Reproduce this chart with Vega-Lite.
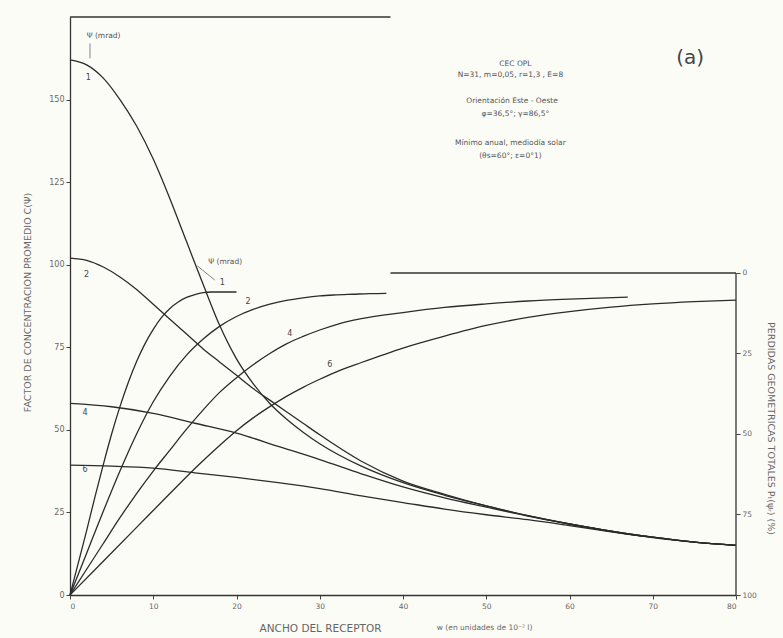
{
  "$schema": "https://vega.github.io/schema/vega-lite/v6.json",
  "width": 666,
  "height": 578,
  "autosize": {"type": "none"},
  "padding": {"left": 70, "top": 17, "right": 47, "bottom": 43},
  "background": "#fcfcf7",
  "config": {
    "view": {"stroke": null},
    "font": "DejaVu Sans",
    "axis": {"grid": false, "domainColor": "#333", "domainWidth": 1.3, "tickColor": "#444", "labelColor": "#666", "titleColor": "#666", "labelFont": "DejaVu Sans", "titleFont": "DejaVu Sans", "labelFontSize": 8, "titleFontWeight": "normal"}
  },
  "datasets": {
    "fall": [
      {"curve": "1", "x": 0, "v": 162}, {"curve": "1", "x": 2, "v": 160.5}, {"curve": "1", "x": 4, "v": 156.5}, {"curve": "1", "x": 6, "v": 150}, {"curve": "1", "x": 8, "v": 142}, {"curve": "1", "x": 10, "v": 132}, {"curve": "1", "x": 12, "v": 120}, {"curve": "1", "x": 14, "v": 107}, {"curve": "1", "x": 16, "v": 94}, {"curve": "1", "x": 18, "v": 81.5}, {"curve": "1", "x": 20, "v": 71.5}, {"curve": "1", "x": 22, "v": 64}, {"curve": "1", "x": 24, "v": 58}, {"curve": "1", "x": 26, "v": 53.3}, {"curve": "1", "x": 28, "v": 49.3}, {"curve": "1", "x": 30, "v": 45.8}, {"curve": "1", "x": 35, "v": 39}, {"curve": "1", "x": 40, "v": 34}, {"curve": "1", "x": 45, "v": 30.2}, {"curve": "1", "x": 50, "v": 27}, {"curve": "1", "x": 55, "v": 24}, {"curve": "1", "x": 60, "v": 21.5}, {"curve": "1", "x": 65, "v": 19.3}, {"curve": "1", "x": 70, "v": 17.5}, {"curve": "1", "x": 75, "v": 16}, {"curve": "1", "x": 80, "v": 15},
      {"curve": "2", "x": 0, "v": 102}, {"curve": "2", "x": 2, "v": 101.3}, {"curve": "2", "x": 4, "v": 99.3}, {"curve": "2", "x": 6, "v": 96.3}, {"curve": "2", "x": 8, "v": 92.5}, {"curve": "2", "x": 10, "v": 88}, {"curve": "2", "x": 12, "v": 83.5}, {"curve": "2", "x": 14, "v": 79}, {"curve": "2", "x": 16, "v": 74.5}, {"curve": "2", "x": 18, "v": 70.5}, {"curve": "2", "x": 20, "v": 66.5}, {"curve": "2", "x": 22, "v": 62.5}, {"curve": "2", "x": 24, "v": 59}, {"curve": "2", "x": 26, "v": 55.5}, {"curve": "2", "x": 28, "v": 52}, {"curve": "2", "x": 30, "v": 48.5}, {"curve": "2", "x": 35, "v": 40.5}, {"curve": "2", "x": 40, "v": 34.5}, {"curve": "2", "x": 45, "v": 30.5}, {"curve": "2", "x": 50, "v": 27}, {"curve": "2", "x": 55, "v": 24}, {"curve": "2", "x": 60, "v": 21.5}, {"curve": "2", "x": 65, "v": 19.3}, {"curve": "2", "x": 70, "v": 17.5}, {"curve": "2", "x": 75, "v": 16}, {"curve": "2", "x": 80, "v": 15},
      {"curve": "4", "x": 0, "v": 58}, {"curve": "4", "x": 5, "v": 57}, {"curve": "4", "x": 10, "v": 55}, {"curve": "4", "x": 15, "v": 52}, {"curve": "4", "x": 20, "v": 49}, {"curve": "4", "x": 25, "v": 45}, {"curve": "4", "x": 30, "v": 41}, {"curve": "4", "x": 35, "v": 36.7}, {"curve": "4", "x": 40, "v": 32.7}, {"curve": "4", "x": 45, "v": 29.4}, {"curve": "4", "x": 50, "v": 26.6}, {"curve": "4", "x": 55, "v": 23.9}, {"curve": "4", "x": 60, "v": 21.5}, {"curve": "4", "x": 65, "v": 19.3}, {"curve": "4", "x": 70, "v": 17.5}, {"curve": "4", "x": 75, "v": 16}, {"curve": "4", "x": 80, "v": 15},
      {"curve": "6", "x": 0, "v": 39.3}, {"curve": "6", "x": 5, "v": 39}, {"curve": "6", "x": 10, "v": 38.4}, {"curve": "6", "x": 15, "v": 37}, {"curve": "6", "x": 20, "v": 35.6}, {"curve": "6", "x": 25, "v": 34}, {"curve": "6", "x": 30, "v": 32.2}, {"curve": "6", "x": 35, "v": 30}, {"curve": "6", "x": 40, "v": 28}, {"curve": "6", "x": 45, "v": 26}, {"curve": "6", "x": 50, "v": 24.3}, {"curve": "6", "x": 55, "v": 22.8}, {"curve": "6", "x": 60, "v": 21}, {"curve": "6", "x": 65, "v": 19.1}, {"curve": "6", "x": 70, "v": 17.4}, {"curve": "6", "x": 75, "v": 16}, {"curve": "6", "x": 80, "v": 15}
    ],
    "rise": [
      {"curve": "1", "x": 0, "loss": 100}, {"curve": "1", "x": 1, "loss": 90}, {"curve": "1", "x": 2, "loss": 80}, {"curve": "1", "x": 3, "loss": 69.5}, {"curve": "1", "x": 4, "loss": 59.5}, {"curve": "1", "x": 5, "loss": 50}, {"curve": "1", "x": 6, "loss": 41.5}, {"curve": "1", "x": 7, "loss": 34}, {"curve": "1", "x": 8, "loss": 27.5}, {"curve": "1", "x": 9, "loss": 22}, {"curve": "1", "x": 10, "loss": 17.5}, {"curve": "1", "x": 11, "loss": 13.8}, {"curve": "1", "x": 12, "loss": 11}, {"curve": "1", "x": 13, "loss": 9}, {"curve": "1", "x": 14, "loss": 7.6}, {"curve": "1", "x": 15, "loss": 6.7}, {"curve": "1", "x": 16, "loss": 6.1}, {"curve": "1", "x": 17, "loss": 5.9}, {"curve": "1", "x": 20, "loss": 5.9},
      {"curve": "2", "x": 0, "loss": 100}, {"curve": "2", "x": 2, "loss": 87}, {"curve": "2", "x": 4, "loss": 74}, {"curve": "2", "x": 6, "loss": 61.5}, {"curve": "2", "x": 8, "loss": 50}, {"curve": "2", "x": 10, "loss": 40}, {"curve": "2", "x": 12, "loss": 32}, {"curve": "2", "x": 14, "loss": 25.5}, {"curve": "2", "x": 16, "loss": 20.5}, {"curve": "2", "x": 18, "loss": 16.5}, {"curve": "2", "x": 20, "loss": 13.5}, {"curve": "2", "x": 22, "loss": 11.3}, {"curve": "2", "x": 24, "loss": 9.7}, {"curve": "2", "x": 26, "loss": 8.5}, {"curve": "2", "x": 28, "loss": 7.7}, {"curve": "2", "x": 30, "loss": 7.1}, {"curve": "2", "x": 32, "loss": 6.8}, {"curve": "2", "x": 34, "loss": 6.6}, {"curve": "2", "x": 36, "loss": 6.4}, {"curve": "2", "x": 38, "loss": 6.3},
      {"curve": "4", "x": 0, "loss": 100}, {"curve": "4", "x": 2, "loss": 92}, {"curve": "4", "x": 4, "loss": 84}, {"curve": "4", "x": 6, "loss": 76}, {"curve": "4", "x": 8, "loss": 68.5}, {"curve": "4", "x": 10, "loss": 61.5}, {"curve": "4", "x": 12, "loss": 55}, {"curve": "4", "x": 14, "loss": 48.5}, {"curve": "4", "x": 16, "loss": 42.5}, {"curve": "4", "x": 18, "loss": 37}, {"curve": "4", "x": 20, "loss": 32.5}, {"curve": "4", "x": 22, "loss": 28.5}, {"curve": "4", "x": 24, "loss": 25}, {"curve": "4", "x": 26, "loss": 22}, {"curve": "4", "x": 28, "loss": 19.7}, {"curve": "4", "x": 30, "loss": 17.7}, {"curve": "4", "x": 32, "loss": 16}, {"curve": "4", "x": 35, "loss": 14.2}, {"curve": "4", "x": 40, "loss": 12.3}, {"curve": "4", "x": 45, "loss": 10.7}, {"curve": "4", "x": 50, "loss": 9.6}, {"curve": "4", "x": 55, "loss": 8.7}, {"curve": "4", "x": 60, "loss": 8.1}, {"curve": "4", "x": 67, "loss": 7.5},
      {"curve": "6", "x": 0, "loss": 100}, {"curve": "6", "x": 4, "loss": 89.5}, {"curve": "6", "x": 8, "loss": 79}, {"curve": "6", "x": 12, "loss": 68.5}, {"curve": "6", "x": 15.5, "loss": 59.5}, {"curve": "6", "x": 18, "loss": 53.5}, {"curve": "6", "x": 20, "loss": 49}, {"curve": "6", "x": 22, "loss": 45}, {"curve": "6", "x": 24, "loss": 41.5}, {"curve": "6", "x": 26, "loss": 38.3}, {"curve": "6", "x": 28, "loss": 35.5}, {"curve": "6", "x": 30, "loss": 33}, {"curve": "6", "x": 32, "loss": 30.7}, {"curve": "6", "x": 35, "loss": 27.8}, {"curve": "6", "x": 40, "loss": 23.3}, {"curve": "6", "x": 45, "loss": 19.6}, {"curve": "6", "x": 50, "loss": 16.3}, {"curve": "6", "x": 55, "loss": 13.8}, {"curve": "6", "x": 60, "loss": 12}, {"curve": "6", "x": 65, "loss": 10.6}, {"curve": "6", "x": 70, "loss": 9.6}, {"curve": "6", "x": 75, "loss": 8.9}, {"curve": "6", "x": 80, "loss": 8.4}
    ],
    "notes": [
      {"x": 53.5, "v": 160.7, "text": "CEC OPL"},
      {"x": 52.9, "v": 157.5, "text": "N=31,  m=0,05,  r=1,3 ,  E=8"},
      {"x": 53.1, "v": 149.5, "text": "Orientación Este - Oeste"},
      {"x": 53.5, "v": 145.6, "text": "φ=36,5°;   γ=86,5°"},
      {"x": 52.9, "v": 136.9, "text": "Mínimo anual, mediodía solar"},
      {"x": 52.9, "v": 132.9, "text": "(θs=60°;  ε=0°1)"}
    ],
    "panel": [{"x": 74.5, "v": 162.5, "text": "(a)"}],
    "fallLabels": [
      {"x": 2.2, "v": 156.5, "text": "1"},
      {"x": 2.0, "v": 97, "text": "2"},
      {"x": 1.8, "v": 55, "text": "4"},
      {"x": 1.8, "v": 37.8, "text": "6"}
    ],
    "psiTop": [{"x": 2.0, "v": 169.2, "text": "Ψ (mrad)"}],
    "unitNote": [{"x": 49.8, "v": -10, "text": "w (en unidades de 10⁻² l)"}],
    "topFrame": [{"x": 0, "x2": 38.5, "v": 175}],
    "arrowTop": [{"x": 2.4, "v": 167, "v2": 162.5}],
    "riseLabels": [
      {"x": 18.3, "loss": 3, "text": "1"},
      {"x": 21.4, "loss": 9, "text": "2"},
      {"x": 26.4, "loss": 19, "text": "4"},
      {"x": 31.2, "loss": 28.5, "text": "6"}
    ],
    "psiRise": [{"x": 16.6, "loss": -3.4, "text": "Ψ (mrad)"}],
    "arrowRise": [{"x": 15.3, "x2": 17.4, "loss": -2.2, "loss2": 2.2}],
    "rightTop": [{"x": 38.5, "x2": 80, "loss": 0}],
    "rightSide": [{"x": 80, "loss": 0, "loss2": 100}]
  },
  "encoding": {
    "x": {
      "field": "x", "type": "quantitative",
      "scale": {"domain": [0, 80], "nice": false},
      "axis": {"values": [0, 10, 20, 30, 40, 50, 60, 70, 80], "tickSize": 4, "labelPadding": 3, "labelFontSize": 7.5, "title": "ANCHO DEL RECEPTOR", "titleFontSize": 10.5, "titleX": 250, "titleY": 33, "titleAlign": "center", "titleBaseline": "middle"}
    }
  },
  "layer": [
    {
      "encoding": {
        "y": {
          "field": "v", "type": "quantitative",
          "scale": {"domain": [0, 175], "nice": false},
          "axis": {"orient": "left", "values": [0, 25, 50, 75, 100, 125, 150], "tickSize": 4, "labelPadding": 2, "labelFontSize": 8, "title": "FACTOR DE CONCENTRACION PROMEDIO C(Ψ)", "titleFontSize": 9.5, "titlePadding": 16, "titleY": 285}
        }
      },
      "layer": [
        {"data": {"name": "fall"}, "mark": {"type": "line", "interpolate": "monotone", "stroke": "#2b2b2b", "strokeWidth": 1.3}, "encoding": {"detail": {"field": "curve"}, "order": {"field": "x", "type": "quantitative"}}},
        {"data": {"name": "topFrame"}, "mark": {"type": "rule", "stroke": "#333", "strokeWidth": 1.3}, "encoding": {"x2": {"field": "x2"}}},
        {"data": {"name": "arrowTop"}, "mark": {"type": "rule", "stroke": "#666", "strokeWidth": 0.8}, "encoding": {"y2": {"field": "v2"}}},
        {"data": {"name": "notes"}, "mark": {"type": "text", "fontSize": 7.5, "fill": "#555", "align": "center", "baseline": "middle"}, "encoding": {"text": {"field": "text"}}},
        {"data": {"name": "panel"}, "mark": {"type": "text", "fontSize": 20, "fill": "#444", "align": "center", "baseline": "middle"}, "encoding": {"text": {"field": "text"}}},
        {"data": {"name": "fallLabels"}, "mark": {"type": "text", "fontSize": 8, "fill": "#444", "align": "center", "baseline": "middle"}, "encoding": {"text": {"field": "text"}}},
        {"data": {"name": "psiTop"}, "mark": {"type": "text", "fontSize": 7.5, "fill": "#555", "align": "left", "baseline": "middle"}, "encoding": {"text": {"field": "text"}}},
        {"data": {"name": "unitNote"}, "mark": {"type": "text", "fontSize": 7.5, "fill": "#666", "align": "center", "baseline": "middle"}, "encoding": {"text": {"field": "text"}}}
      ]
    },
    {
      "encoding": {
        "y": {
          "field": "loss", "type": "quantitative",
          "scale": {"domain": [-79.5, 100], "nice": false, "reverse": true},
          "axis": {"orient": "right", "values": [0, 25, 50, 75, 100], "domain": false, "tickSize": 4, "labelPadding": 2, "labelFontSize": 7.5, "title": "PERDIDAS GEOMETRICAS TOTALES Pₜ(ψᵣ) (%)", "titleFontSize": 9.5, "titleAngle": 90, "titleX": 34, "titleY": 411, "titleAlign": "center", "titleBaseline": "middle"}
        }
      },
      "layer": [
        {"data": {"name": "rise"}, "mark": {"type": "line", "interpolate": "monotone", "stroke": "#2b2b2b", "strokeWidth": 1.3}, "encoding": {"detail": {"field": "curve"}, "order": {"field": "x", "type": "quantitative"}}},
        {"data": {"name": "rightTop"}, "mark": {"type": "rule", "stroke": "#333", "strokeWidth": 1.3}, "encoding": {"x2": {"field": "x2"}}},
        {"data": {"name": "rightSide"}, "mark": {"type": "rule", "stroke": "#333", "strokeWidth": 1.3}, "encoding": {"y2": {"field": "loss2"}}},
        {"data": {"name": "arrowRise"}, "mark": {"type": "rule", "stroke": "#666", "strokeWidth": 0.8}, "encoding": {"x2": {"field": "x2"}, "y2": {"field": "loss2"}}},
        {"data": {"name": "riseLabels"}, "mark": {"type": "text", "fontSize": 8, "fill": "#444", "align": "center", "baseline": "middle"}, "encoding": {"text": {"field": "text"}}},
        {"data": {"name": "psiRise"}, "mark": {"type": "text", "fontSize": 7.5, "fill": "#555", "align": "left", "baseline": "middle"}, "encoding": {"text": {"field": "text"}}}
      ]
    }
  ],
  "resolve": {"scale": {"y": "independent"}, "axis": {"y": "independent"}}
}
